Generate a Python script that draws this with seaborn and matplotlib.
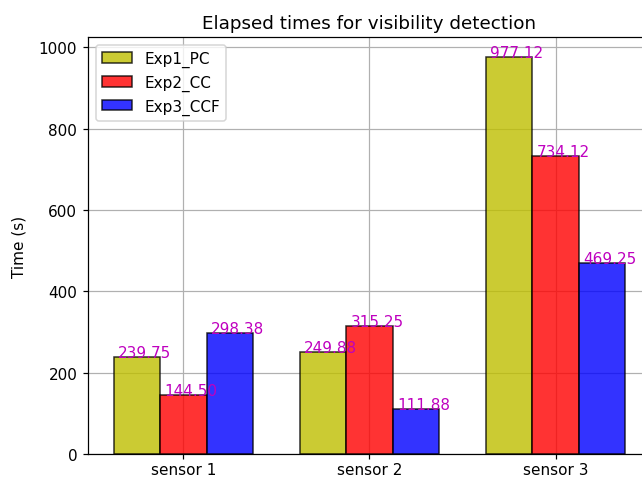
import pandas as pd
import matplotlib
matplotlib.use("Agg")
import matplotlib.pyplot as plt
import seaborn as sns

sensors = ["sensor 1", "sensor 2", "sensor 3"]
experiments = ["Exp1_PC", "Exp2_CC", "Exp3_CCF"]
exp1_pc = [239.75, 249.88, 977.12]
exp2_cc = [144.50, 315.25, 734.12]
exp3_ccf = [298.38, 111.88, 469.25]

df = pd.DataFrame({
    "sensor": sensors * 3,
    "experiment": [e for e in experiments for _ in sensors],
    "time": exp1_pc + exp2_cc + exp3_ccf,
})

# the original looks rendered ~1.1x larger than default, so use dpi 110
dpi = 110
fig = plt.figure(figsize=(642 / dpi, 480 / dpi), dpi=dpi)
ax = fig.add_axes([0.137, 0.052, 0.877, 0.869])
sns.barplot(data=df, x="sensor", y="time", hue="experiment", order=sensors,
            hue_order=experiments, palette=["y", "r", "b"], saturation=1,
            width=0.75, alpha=0.8, edgecolor="black", linewidth=1,
            errorbar=None, ax=ax, legend=False)

# value labels above each bar
for cont in ax.containers:
    for p in cont:
        h = p.get_height()
        ax.text(p.get_x() + p.get_width() / 2 - 0.1, h, f"{h:.2f}", color="m")

ax.set_xlim(-0.5125, 2.5125)
ax.set_ylim(0, 1026)
ax.set_title("Elapsed times for visibility detection")
ax.set_xlabel("")
ax.set_ylabel("Time (s)", labelpad=8)
ax.tick_params(axis="x", pad=2)
ax.grid(True)
ax.set_axisbelow(True)
ax.legend(ax.containers, experiments, loc="upper left")
fig.savefig("out.png", dpi=dpi)
